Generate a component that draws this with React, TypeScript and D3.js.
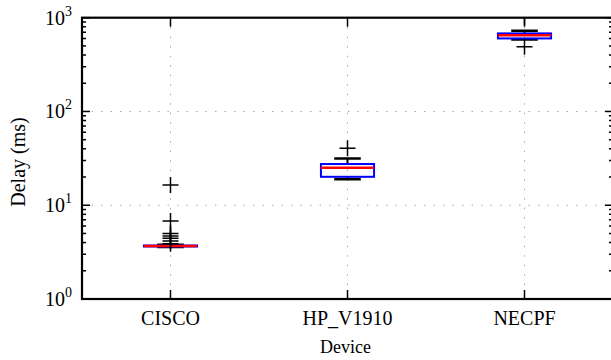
import React from "react";
import * as d3 from "d3";

const categories = ["CISCO", "HP_V1910", "NECPF"];
const q1 = [3.63, 20.1, 601];
const medians = [3.67, 25.1, 648];
const q3 = [3.72, 27.5, 680];
const whiskerLow = [3.58, 18.9, 587];
const whiskerHigh = [3.8, 31.6, 725];
const outliers = [
  [3.89, 4.15, 4.44, 4.7, 5.01, 6.79, 16.4],
  [40.4],
  [490, 1010],
];
const yTickExps = [0, 1, 2, 3];

const W = 611;
const H = 360;
const left = 82;
const right = 613;
const top = 17.7;
const bottom = 299;
const FONT = "'Liberation Serif', 'DejaVu Serif', serif";

export default function App() {
  const x = d3.scaleLinear().domain([0.5, 3.5]).range([left, right]);
  const y = d3.scaleLog().domain([1, 1000]).range([bottom, top]);
  const boxW = x(0.3) - x(0);
  const capW = boxW / 2;
  const minor: number[] = [];
  for (let e = 0; e < 3; e++) for (let m = 2; m <= 9; m++) minor.push(m * Math.pow(10, e));
  const gridStyle = { stroke: "#a8a8a8", strokeWidth: 1, strokeDasharray: "1.5,8" };

  return (
    <div style={{ position: "fixed", left: 0, top: 0 }}>
      <svg width={W} height={H} style={{ display: "block", background: "#fff" }}>
        <defs>
          <clipPath id="plot">
            <rect x={left} y={top} width={right - left} height={bottom - top} />
          </clipPath>
        </defs>
        {/* grid */}
        {[10, 100].map((v) => (
          <line key={"gy" + v} x1={left} x2={right} y1={y(v)} y2={y(v)} {...gridStyle} />
        ))}
        {categories.map((c, i) => (
          <line key={"gx" + c} x1={x(i + 1)} x2={x(i + 1)} y1={top} y2={bottom} {...gridStyle} />
        ))}
        {/* boxes */}
        <g clipPath="url(#plot)">
          {categories.map((c, i) => {
            const cx = x(i + 1);
            return (
              <g key={"b" + c}>
                <line x1={cx} x2={cx} y1={y(q3[i])} y2={y(whiskerHigh[i])} stroke="#000" strokeWidth={2} />
                <line x1={cx} x2={cx} y1={y(q1[i])} y2={y(whiskerLow[i])} stroke="#000" strokeWidth={2} />
                <line x1={cx - capW / 2} x2={cx + capW / 2} y1={y(whiskerHigh[i])} y2={y(whiskerHigh[i])} stroke="#000" strokeWidth={2.5} />
                <line x1={cx - capW / 2} x2={cx + capW / 2} y1={y(whiskerLow[i])} y2={y(whiskerLow[i])} stroke="#000" strokeWidth={2.5} />
                <rect
                  x={cx - boxW / 2}
                  y={y(q3[i])}
                  width={boxW}
                  height={y(q1[i]) - y(q3[i])}
                  fill="none"
                  stroke="#0000ff"
                  strokeWidth={2}
                />
                <line x1={cx - boxW / 2} x2={cx + boxW / 2} y1={y(medians[i])} y2={y(medians[i])} stroke="#ff0000" strokeWidth={2.5} />
                {outliers[i].map((v, k) => (
                  <g key={k}>
                    <line x1={cx - 8} x2={cx + 8} y1={y(v)} y2={y(v)} stroke="#000" strokeWidth={1.5} />
                    <line x1={cx} x2={cx} y1={y(v) - 8} y2={y(v) + 8} stroke="#000" strokeWidth={1.5} />
                  </g>
                ))}
              </g>
            );
          })}
        </g>
        {/* ticks */}
        {yTickExps.map((e) => {
          const yy = y(Math.pow(10, e));
          return (
            <g key={"yt" + e}>
              <line x1={left} x2={left + 8} y1={yy} y2={yy} stroke="#000" strokeWidth={1.5} />
              <line x1={right - 8} x2={right} y1={yy} y2={yy} stroke="#000" strokeWidth={1.5} />
              <text x={72} y={yy + 7} textAnchor="end" fontFamily={FONT} fontSize={20} fill="#000">
                10
                <tspan fontSize={14} dy={-9}>{e}</tspan>
              </text>
            </g>
          );
        })}
        {minor.map((v) => (
          <g key={"mt" + v}>
            <line x1={left} x2={left + 4} y1={y(v)} y2={y(v)} stroke="#000" strokeWidth={1.5} />
            <line x1={right - 4} x2={right} y1={y(v)} y2={y(v)} stroke="#000" strokeWidth={1.5} />
          </g>
        ))}
        {categories.map((c, i) => (
          <g key={"xt" + c}>
            <line x1={x(i + 1)} x2={x(i + 1)} y1={bottom} y2={bottom - 9} stroke="#000" strokeWidth={1.5} />
            <line x1={x(i + 1)} x2={x(i + 1)} y1={top} y2={top + 9} stroke="#000" strokeWidth={1.5} />
            <text x={x(i + 1)} y={325} textAnchor="middle" fontFamily={FONT} fontSize={20} fill="#000">
              {c}
            </text>
          </g>
        ))}
        {/* spines */}
        <rect x={left} y={top} width={right - left} height={bottom - top} fill="none" stroke="#000" strokeWidth={2.2} />
        {/* axis labels */}
        <text x={(left + right) / 2 - 2} y={353} textAnchor="middle" fontFamily={FONT} fontSize={18} fill="#000">
          Device
        </text>
        <text
          transform={`translate(25, 162) rotate(-90)`}
          textAnchor="middle"
          fontFamily={FONT}
          fontSize={20}
          fill="#000"
        >
          Delay (ms)
        </text>
      </svg>
    </div>
  );
}
